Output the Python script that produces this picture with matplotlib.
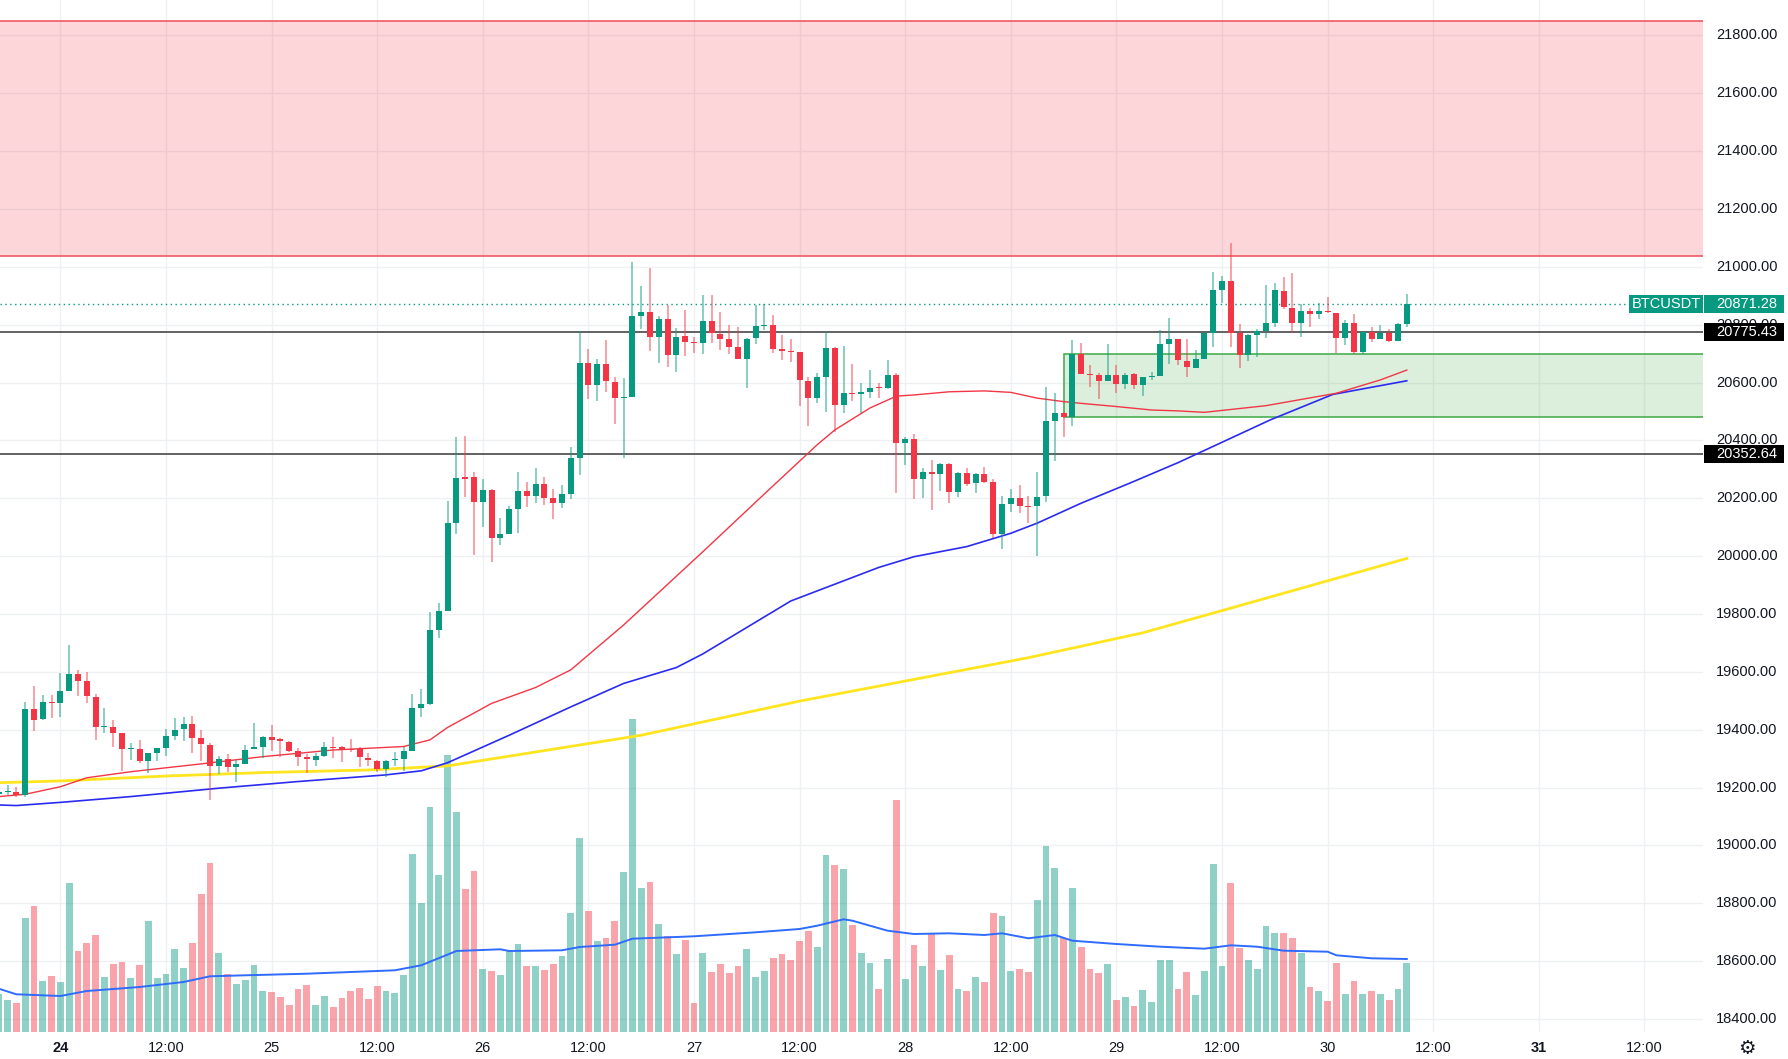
import numpy as np
import matplotlib.pyplot as plt
from matplotlib.patches import Rectangle
from matplotlib.transforms import blended_transform_factory as blend

plt.rcParams['font.family'] = ['Liberation Sans', 'DejaVu Sans']

# BTCUSDT 1h, hours counted from Mon 24 Oct 00:00
hours = np.arange(-7, 154)
opens = [19177, 19185, 19186, 19174, 19472, 19436, 19497, 19494, 19535, 19592, 19569, 19514, 19408, 19411,
         19388, 19332, 19334, 19293, 19321, 19338, 19380, 19401, 19419, 19370, 19347, 19276, 19299, 19272,
         19282, 19332, 19342, 19375, 19367, 19359, 19327, 19307, 19296, 19309, 19339, 19339, 19333, 19332,
         19304, 19293, 19263, 19295, 19299, 19327, 19476, 19488, 19745, 19812, 20116, 20272, 20272, 20188,
         20229, 20062, 20077, 20163, 20226, 20209, 20248, 20200, 20185, 20214, 20340, 20669, 20591, 20664,
         20603, 20547, 20550, 20830, 20844, 20758, 20820, 20694, 20761, 20740, 20735, 20813, 20767, 20752,
         20722, 20681, 20753, 20795, 20799, 20715, 20710, 20704, 20606, 20545, 20619, 20719, 20522, 20564,
         20560, 20567, 20583, 20581, 20626, 20392, 20404, 20267, 20290, 20283, 20318, 20222, 20288, 20252,
         20284, 20257, 20076, 20179, 20200, 20174, 20174, 20209, 20467, 20493, 20482, 20699, 20628, 20626,
         20606, 20626, 20594, 20629, 20591, 20618, 20624, 20733, 20750, 20676, 20651, 20681, 20772, 20920,
         20952, 20772, 20695, 20764, 20778, 20805, 20918, 20859, 20807, 20848, 20836, 20847, 20841, 20755,
         20805, 20707, 20776, 20750, 20770, 20744, 20801]
highs = [19192, 19209, 19201, 19497, 19551, 19520, 19520, 19595, 19693, 19607, 19598, 19524, 19474, 19434,
         19388, 19353, 19365, 19321, 19338, 19401, 19442, 19443, 19448, 19399, 19355, 19309, 19315, 19296,
         19347, 19425, 19378, 19415, 19370, 19361, 19336, 19315, 19318, 19359, 19374, 19344, 19367, 19339,
         19319, 19295, 19295, 19324, 19342, 19524, 19540, 19807, 19839, 20190, 20411, 20415, 20292, 20265,
         20231, 20131, 20173, 20292, 20257, 20303, 20275, 20231, 20246, 20378, 20779, 20717, 20682, 20747,
         20620, 20614, 21018, 20935, 20995, 20831, 20868, 20787, 20851, 20758, 20902, 20902, 20845, 20799,
         20793, 20754, 20868, 20871, 20833, 20764, 20749, 20704, 20618, 20632, 20778, 20724, 20727, 20664,
         20597, 20643, 20600, 20678, 20634, 20413, 20422, 20303, 20332, 20321, 20321, 20292, 20306, 20286,
         20309, 20265, 20208, 20231, 20246, 20208, 20290, 20586, 20565, 20499, 20747, 20735, 20661, 20634,
         20733, 20661, 20634, 20634, 20620, 20638, 20781, 20822, 20752, 20749, 20712, 20775, 20981, 20968,
         21081, 20802, 20768, 20784, 20937, 20945, 20966, 20980, 20871, 20856, 20874, 20897, 20841, 20816,
         20837, 20779, 20793, 20799, 20784, 20805, 20906]
lows = [19170, 19174, 19169, 19169, 19397, 19434, 19439, 19443, 19535, 19517, 19491, 19365, 19390, 19339,
        19259, 19295, 19286, 19252, 19292, 19309, 19365, 19362, 19319, 19293, 19157, 19246, 19253, 19221,
        19282, 19332, 19301, 19328, 19305, 19324, 19275, 19252, 19276, 19307, 19301, 19290, 19324, 19270,
        19275, 19255, 19238, 19275, 19259, 19327, 19445, 19485, 19716, 19812, 20077, 20203, 20004, 20100,
        19981, 20038, 20077, 20081, 20171, 20182, 20177, 20127, 20168, 20197, 20280, 20542, 20537, 20568,
        20455, 20338, 20550, 20785, 20710, 20669, 20655, 20637, 20692, 20701, 20699, 20735, 20712, 20699,
        20681, 20582, 20733, 20782, 20703, 20678, 20672, 20519, 20450, 20528, 20499, 20430, 20496, 20537,
        20496, 20545, 20545, 20576, 20219, 20315, 20197, 20200, 20159, 20226, 20182, 20205, 20242, 20217,
        20252, 20061, 20023, 20154, 20150, 20116, 20000, 20186, 20329, 20411, 20450, 20628, 20583, 20542,
        20606, 20565, 20576, 20576, 20553, 20609, 20624, 20664, 20660, 20620, 20651, 20681, 20722, 20876,
        20724, 20649, 20676, 20689, 20753, 20791, 20853, 20772, 20758, 20791, 20818, 20841, 20703, 20730,
        20699, 20699, 20741, 20750, 20739, 20744, 20791]
closes = [19186, 19189, 19174, 19472, 19434, 19497, 19494, 19535, 19592, 19570, 19518, 19411, 19413, 19390,
          19334, 19336, 19293, 19321, 19338, 19378, 19399, 19420, 19370, 19350, 19276, 19299, 19272, 19282,
          19330, 19342, 19376, 19365, 19361, 19328, 19307, 19298, 19309, 19339, 19336, 19335, 19330, 19305,
          19296, 19263, 19293, 19299, 19327, 19476, 19488, 19745, 19812, 20116, 20271, 20268, 20188, 20229,
          20062, 20077, 20163, 20226, 20208, 20248, 20200, 20185, 20214, 20340, 20669, 20591, 20664, 20605,
          20545, 20550, 20830, 20844, 20758, 20820, 20694, 20758, 20741, 20735, 20813, 20770, 20750, 20723,
          20681, 20752, 20797, 20799, 20717, 20708, 20707, 20609, 20548, 20619, 20719, 20522, 20563, 20560,
          20567, 20581, 20580, 20626, 20392, 20404, 20267, 20290, 20283, 20318, 20222, 20288, 20249, 20284,
          20255, 20076, 20179, 20200, 20174, 20171, 20206, 20467, 20493, 20482, 20699, 20628, 20625, 20606,
          20626, 20594, 20626, 20591, 20618, 20624, 20733, 20750, 20678, 20653, 20681, 20772, 20920, 20952,
          20772, 20695, 20764, 20778, 20805, 20920, 20860, 20807, 20848, 20836, 20847, 20843, 20755, 20805,
          20707, 20776, 20749, 20770, 20744, 20801, 20871.28]
volumes = [766, 634, 586, 2274, 2526, 1026, 1114, 994, 2980, 1614, 1774, 1946, 1106, 1366, 1406, 1074, 1346,
           2220, 1086, 1166, 1654, 1274, 1786, 2760, 3386, 1586, 1160, 960, 1034, 1346, 826, 794, 706, 534,
           860, 946, 534, 726, 506, 686, 826, 886, 660, 920, 826, 786, 1146, 3554, 2574, 4500, 3146, 5540,
           4400, 2866, 3214, 1260, 1214, 1146, 1634, 1760, 1326, 1326, 1246, 1354, 1520, 2374, 3880, 2420,
           1814, 1886, 2226, 3200, 6254, 2880, 3000, 2166, 1926, 1566, 1834, 586, 1586, 1206, 1354, 1174,
           1320, 1666, 1106, 1220, 1486, 1566, 1434, 1820, 2020, 1700, 3546, 3340, 3254, 2146, 1574, 1380,
           860, 1460, 4640, 1066, 1734, 1320, 1966, 1234, 1534, 866, 814, 1100, 994, 2374, 2326, 1220, 1260,
           1200, 2640, 3714, 3274, 1874, 2874, 1700, 1266, 1180, 1366, 646, 694, 526, 846, 600, 1434, 1434,
           860, 1200, 740, 1214, 3360, 1320, 2986, 1674, 1434, 1260, 2120, 1974, 1974, 1874, 1580, 894, 820,
           626, 1386, 760, 1026, 760, 820, 760, 646, 860, 1380]

# moving averages (hour, value)
ma_fast_h = [-7, -4, 0, 3, 8, 16, 23, 31, 39, 42, 44, 49, 54, 58, 64, 73, 80, 86, 88, 92, 95, 97, 101,
             105, 108, 111, 114, 116, 120, 124, 127, 130, 137, 145, 150, 153]
ma_fast = [19169, 19177, 19203, 19234, 19255, 19282, 19307, 19330, 19342, 19365, 19408, 19491, 19546,
           19607, 19762, 20015, 20215, 20385, 20436, 20512, 20553, 20557, 20568, 20571, 20566, 20546, 20534,
           20528, 20517, 20505, 20502, 20497, 20520, 20563, 20609, 20643]
ma_mid_h = [-7, -5, 0, 8, 18, 27, 37, 41, 44, 51, 58, 64, 70, 73, 83, 93, 97, 103, 108, 111, 116, 121.5,
            127, 137.5, 144.6, 153]
ma_mid = [19140, 19138, 19149, 19169, 19198, 19221, 19244, 19258, 19286, 19381, 19479, 19560, 19615, 19662,
          19845, 19961, 19998, 20033, 20079, 20114, 20183, 20252, 20323, 20471, 20559, 20606]
ma_slow_h = [-7, 0, 12, 23, 35, 44, 66, 84, 97, 110, 123, 136, 153]
ma_slow = [19217, 19223, 19240, 19252, 19261, 19275, 19381, 19499, 19574, 19649, 19735, 19846, 19992]
vol_ma_h = [-7, -5, 0, 3, 9, 14, 17, 21, 28, 38, 41, 45, 50, 51, 57, 59, 63, 65, 72, 79, 84, 86, 89, 90,
            94, 97, 101, 105, 107, 110, 113, 115, 120, 125, 130, 133, 136, 139, 144, 145, 149, 153]
vol_ma = [866, 754, 720, 820, 900, 1000, 1114, 1134, 1166, 1234, 1334, 1620, 1654, 1620, 1634, 1700, 1746,
          1866, 1914, 1994, 2060, 2126, 2254, 2226, 2026, 1960, 1974, 1940, 1974, 1874, 1940, 1826, 1760,
          1706, 1666, 1734, 1706, 1626, 1606, 1534, 1474, 1460]

last_price = 20871.28
hlines = [20775.43, 20352.64]
supply_zone = (21037, 21851)
demand_box = (114, 20482, 20699)

day_ticks = list(range(0, 181, 12))
day_labels = ['24', '12:00', '25', '12:00', '26', '12:00', '27', '12:00', '28', '12:00', '29', '12:00',
              '30', '12:00', '31', '12:00']
price_ticks = list(range(18400, 21801, 200))

UP, DOWN = '#089981', '#f23645'
INK = '#131722'
GRID = '#eef0f3'

W, H = 1788, 1059
PANE_R, PANE_B = 1703, 1032
X0, X1 = -6.864, 186.66
Y0, Y1 = 18355.4, 21922

fig = plt.figure(figsize=(W / 100, H / 100), dpi=100)
fig.patch.set_facecolor('white')
rect = [0, (H - PANE_B) / H, PANE_R / W, PANE_B / H]
axv = fig.add_axes(rect, zorder=1)
ax = fig.add_axes(rect, zorder=2)
for a in (axv, ax):
    a.set_xlim(X0, X1)
    a.axis('off')
ax.set_ylim(Y0, Y1)
axv.set_ylim(0, PANE_B * 20)

# grid
for h in day_ticks:
    axv.axvline(h, color=GRID, lw=1, zorder=0)
gridtr = blend(axv.transAxes, ax.transData)
for p in price_ticks:
    axv.plot([0, 1], [p, p], color=GRID, lw=1, transform=gridtr, zorder=0)

o, c = np.array(opens, float), np.array(closes, float)
up = c >= o
cols = np.where(up, UP, DOWN)

# volume
axv.bar(hours, volumes, width=0.76, color=cols, alpha=0.45, linewidth=0, zorder=2)
axv.plot(vol_ma_h, vol_ma, color='#2f6bff', lw=1.4, zorder=3)

# zones
ax.axhspan(*supply_zone, color=DOWN, alpha=0.2, lw=0, zorder=1)
for p in supply_zone:
    ax.axhline(p, color='#f05a64', lw=1.2, zorder=1.5)
bx, blo, bhi = demand_box
ax.add_patch(Rectangle((bx, blo), X1 + 5 - bx, bhi - blo, facecolor=(76 / 255, 175 / 255, 80 / 255, 0.2),
                       edgecolor='#4caf50', lw=1.2, zorder=1.5))

# moving averages
ax.plot(ma_slow_h, ma_slow, color='#ffe51f', lw=2, zorder=3)
ax.plot(ma_mid_h, ma_mid, color='#2b2bf0', lw=1.2, zorder=3)
ax.plot(ma_fast_h, ma_fast, color='#f23645', lw=1.0, zorder=3)

# lines
for p in hlines:
    ax.axhline(p, color='#555555', lw=1.3, zorder=2)
ax.axhline(last_price, xmax=1629 / PANE_R, color=UP, lw=1, ls=(0, (1, 2.5)), zorder=2)

# candles
body_lo = np.minimum(o, c)
body_h = np.maximum(np.abs(c - o), 3)
ax.vlines(hours, lows, highs, colors=cols, lw=1.1, alpha=0.6, zorder=4)
ax.bar(hours, body_h, bottom=body_lo, width=0.68, color=cols, linewidth=0, zorder=5)

# price scale
ytr = blend(ax.transAxes, ax.transData)
lx = 1716 / PANE_R
for p in price_ticks:
    ax.text(lx, p, f'{p:.2f}', transform=ytr, ha='left', va='center', fontsize=10.5, color=INK,
            clip_on=False)

px = (Y1 - Y0) / PANE_B  # price per pixel
bw = 80 / PANE_R
bh = 18 * px
for p, txt, fc in [(last_price, f'{last_price:.2f}', UP), (hlines[0], f'{hlines[0]:.2f}', '#000000'),
                   (hlines[1], f'{hlines[1]:.2f}', '#000000')]:
    ax.add_patch(Rectangle((1.0006, p - bh / 2), bw, bh, transform=ytr, facecolor=fc, edgecolor='none',
                           clip_on=False, zorder=10))
    ax.text(lx, p, txt, transform=ytr, ha='left', va='center', fontsize=10.5, color='white',
            clip_on=False, zorder=11)
ax.add_patch(Rectangle((1629 / PANE_R, last_price - bh / 2), 74 / PANE_R, bh, transform=ytr, facecolor=UP,
                       edgecolor='none', clip_on=False, zorder=10))
ax.text(1666 / PANE_R, last_price, 'BTCUSDT', transform=ytr, ha='center', va='center', fontsize=10.5,
        color='white', clip_on=False, zorder=11)

# time scale
xtr = blend(ax.transData, ax.transAxes)
for h, lab in zip(day_ticks, day_labels):
    bold = lab in ('24', '31')
    ax.text(h, -16 / PANE_B, lab, transform=xtr, ha='center', va='center', fontsize=10.5, color=INK,
            fontweight='bold' if bold else 'normal', clip_on=False)
fig.text(1747 / W, 1 - 1049 / H, '\u2699', ha='center', va='center', fontsize=14, color=INK,
         family='DejaVu Sans')

fig.savefig('out.png', dpi=100, facecolor='white')
